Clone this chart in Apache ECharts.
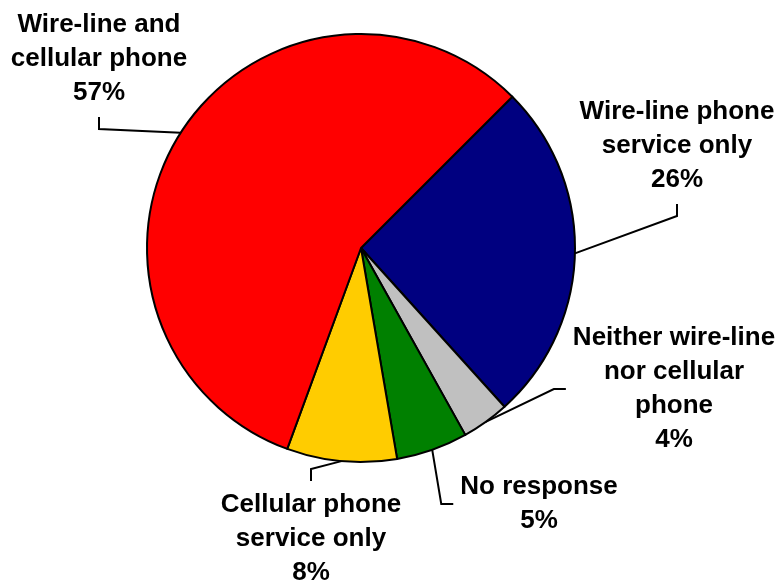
<!DOCTYPE html>
<html>
<head>
<meta charset="utf-8">
<script src="https://cdn.jsdelivr.net/npm/echarts@6/dist/echarts.min.js"></script>
<style>
  html, body { margin: 0; padding: 0; background: #fff; }
  #chart { width: 781px; height: 581px; }
</style>
</head>
<body>
<div id="chart"></div>
<script>
// slices, clockwise from the upper right
const categories = [
  'Wire-line phone\nservice only',
  'Neither wire-line\nnor cellular\nphone',
  'No response',
  'Cellular phone\nservice only',
  'Wire-line and\ncellular phone'
];
const shares = [25.8, 3.6, 5.4, 8.3, 56.9];
const colors = ['#000080', '#C0C0C0', '#008000', '#FFCC00', '#FF0000'];

// where each label sits and which side its leader line enters
const labelX = [677, 674, 539, 311, 99];
const labelY = [146, 389, 504, 539, 59];
const labelSide = ['bottom', 'left', 'left', 'top', 'bottom'];

const chart = echarts.init(document.getElementById('chart'));

chart.setOption({
  animation: false,
  series: [
    {
      type: 'pie',
      center: [361, 248],
      radius: 214,
      startAngle: 45,
      clockwise: true,
      data: categories.map((name, i) => ({
        name: name,
        value: shares[i],
        itemStyle: { color: colors[i] }
      })),
      itemStyle: {
        borderColor: '#000',
        borderWidth: 2
      },
      emphasis: { disabled: true },
      label: {
        show: true,
        position: 'outside',
        alignTo: 'none',
        overflow: 'none',
        formatter: p => p.name + '\n' + Math.round(p.value) + '%',
        fontFamily: '"Liberation Sans", Arial, sans-serif',
        fontWeight: 'bold',
        fontSize: 26,
        lineHeight: 34,
        color: '#000',
        align: 'center'
      },
      labelLine: {
        show: true,
        lineStyle: { color: '#000', width: 2 }
      },
      labelLayout: function (params) {
        const i = params.dataIndex;
        const cx = labelX[i];
        const cy = labelY[i];
        const w = params.labelRect.width;
        const h = params.labelRect.height;
        const gap = 7;
        const arm = 12;
        let end, bend;
        if (labelSide[i] === 'bottom') {
          end = [cx, cy + h / 2 + gap];
          bend = [cx, cy + h / 2 + gap + arm];
        } else if (labelSide[i] === 'top') {
          end = [cx, cy - h / 2 - gap];
          bend = [cx, cy - h / 2 - gap - arm];
        } else {
          end = [cx - w / 2 - gap, cy];
          bend = [cx - w / 2 - gap - arm, cy];
        }
        const start = params.labelLinePoints ? params.labelLinePoints[0] : bend;
        return {
          x: cx,
          y: cy,
          align: 'center',
          verticalAlign: 'middle',
          labelLinePoints: [start, bend, end]
        };
      }
    }
  ]
});
</script>
</body>
</html>
